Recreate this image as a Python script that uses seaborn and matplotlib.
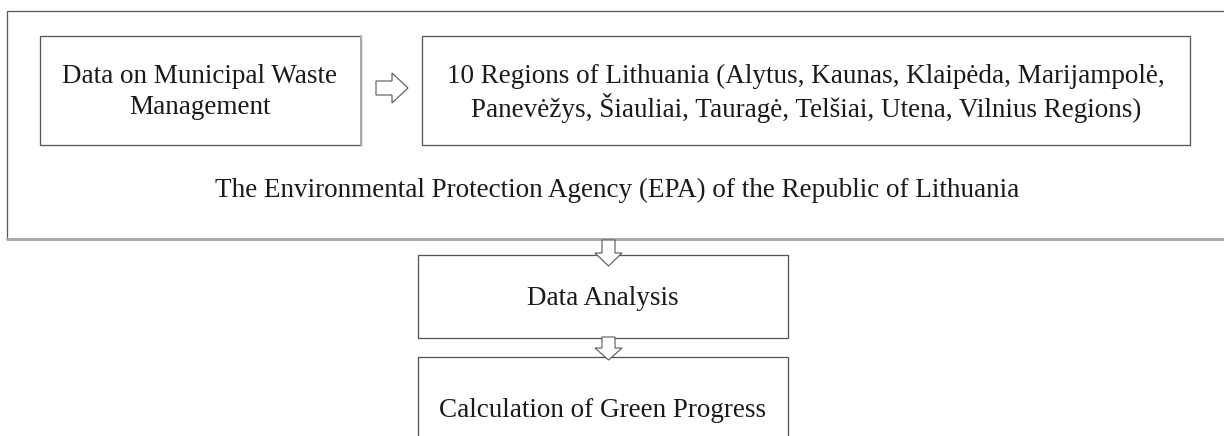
import matplotlib
matplotlib.use("Agg")
import matplotlib.pyplot as plt
import seaborn as sns
from matplotlib.patches import Rectangle, Polygon

# Flowchart text (data)
source_lines = ["Data on Municipal Waste", "Management"]
regions_lines = ["10 Regions of Lithuania (Alytus, Kaunas, Klaipėda, Marijampolė,",
                 "Panevėžys, Šiauliai, Tauragė, Telšiai, Utena, Vilnius Regions)"]
agency_label = "The Environmental Protection Agency (EPA) of the Republic of Lithuania"
step_labels = ["Data Analysis", "Calculation of Green Progress"]

sns.set_style("white")
plt.rcParams['font.family'] = ['Liberation Serif', 'DejaVu Serif']

W, H = 1224, 436
fig = plt.figure(figsize=(W / 100, H / 100), dpi=100)
ax = fig.add_axes([0, 0, 1, 1])
ax.set_xlim(0, W)
ax.set_ylim(H, 0)
ax.axis("off")

edge = "#555555"
px = 0.72  # one pixel in points
fs = 19.5


def box(x0, y0, x1, y1, lw=1.3, ec=edge, z=1):
    ax.add_patch(Rectangle((x0, y0), x1 - x0, y1 - y0, fill=False, ec=ec, lw=lw * px, zorder=z))


def lines_text(cx, cy, lines, gap=31):
    n = len(lines)
    for i, s in enumerate(lines):
        y = cy + (i - (n - 1) / 2) * gap
        ax.text(cx, y, s, ha="center", va="center", fontsize=fs, color="#1a1a1a")


def arrow(pts):
    ax.add_patch(Polygon(pts, closed=True, fc="white", ec=edge, lw=1.1 * px, zorder=5))


# outer container with soft shadow on bottom/right
ax.plot([7, 7, 1240], [239, 11, 11], color="#5a5a5a", lw=1.3 * px, zorder=1)
ax.plot([7, 1240], [239, 239], color="#aaaaaa", lw=3 * px, zorder=1)

# top row boxes
box(40, 36, 361, 145)
ax.plot([361, 361], [36, 145], color="#aaaaaa", lw=2 * px, zorder=1)
lines_text(200, 92, source_lines)

box(422, 36, 1190, 145)
lines_text(806, 92, regions_lines)

# right block arrow
arrow([(376, 81), (392, 81), (392, 73), (408, 88), (392, 103), (392, 95), (376, 95)])

ax.text(617, 190, agency_label, ha="center", va="center", fontsize=fs, color="#1a1a1a")

# lower steps
box(418, 255, 788, 338)
lines_text(603, 298, [step_labels[0]])
box(418, 357, 788, 450)
lines_text(603, 410, [step_labels[1]])

# down block arrows
arrow([(602, 240), (615, 240), (615, 253), (622, 253), (608.5, 266), (595, 253), (602, 253)])
arrow([(602, 337), (615, 337), (615, 348), (622, 348), (608.5, 360), (595, 348), (602, 348)])

fig.savefig("out.png", dpi=100)
